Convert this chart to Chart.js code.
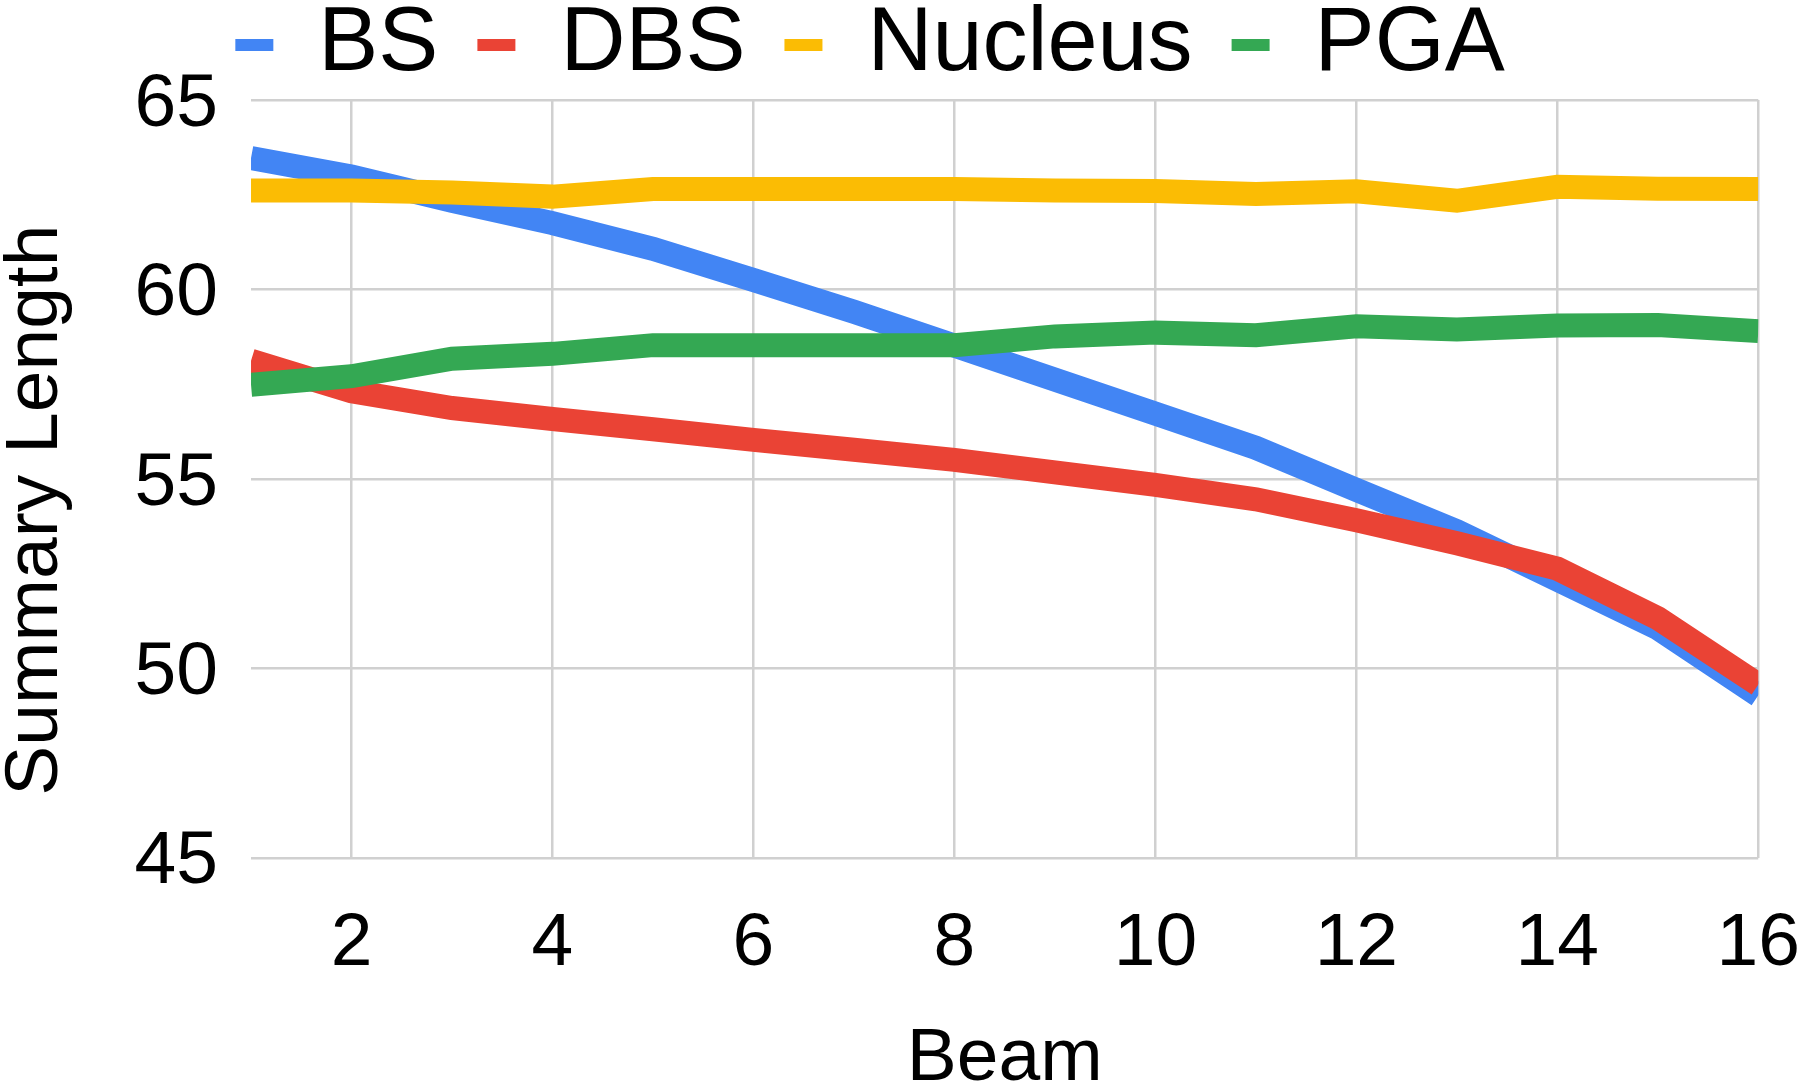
<!DOCTYPE html>
<html>
<head>
<meta charset="utf-8">
<title>Summary Length by Beam</title>
<script src="https://cdn.jsdelivr.net/npm/chart.js@4.4.1/dist/chart.umd.min.js"></script>
<style>
  html, body { margin: 0; padding: 0; background: #fff; }
  #chart { display: block; }
</style>
</head>
<body>
<canvas id="chart" width="1800" height="1081"></canvas>
<script>
const beams = [1, 2, 3, 4, 5, 6, 7, 8, 9, 10, 11, 12, 13, 14, 15, 16];
const bs = [63.47, 62.98, 62.34, 61.75, 61.07, 60.25, 59.41, 58.52, 57.62, 56.72, 55.82, 54.71, 53.62, 52.34, 51.06, 49.29];
const dbs = [58.12, 57.31, 56.87, 56.58, 56.31, 56.03, 55.77, 55.50, 55.17, 54.84, 54.46, 53.91, 53.30, 52.63, 51.32, 49.57];
const nucleus = [62.61, 62.61, 62.56, 62.45, 62.65, 62.65, 62.65, 62.65, 62.61, 62.60, 62.52, 62.59, 62.34, 62.71, 62.66, 62.65];
const pga = [57.48, 57.71, 58.17, 58.30, 58.53, 58.53, 58.53, 58.53, 58.76, 58.86, 58.79, 59.03, 58.94, 59.05, 59.06, 58.90];
const xTicks = [2, 4, 6, 8, 10, 12, 14, 16];

const BLUE = '#4285f4';
const RED = '#ea4335';
const YELLOW = '#fbbc04';
const GREEN = '#34a853';
const GRID = '#d0d0d0';

Chart.defaults.font.family = '"Liberation Sans", Arial, sans-serif';
Chart.defaults.color = '#000';

const toPoints = ys => ys.map((y, i) => ({ x: beams[i], y: y }));

function line(label, values, color) {
  return {
    label: label,
    data: toPoints(values),
    borderColor: color,
    backgroundColor: color,
    borderWidth: 24,
    pointRadius: 0,
    fill: false,
    tension: 0
  };
}

// first dataset is drawn on top, legend is reversed back to BS..PGA
const datasets = [
  line('PGA', pga, GREEN),
  line('Nucleus', nucleus, YELLOW),
  line('DBS', dbs, RED),
  line('BS', bs, BLUE)
];

// nudge the legend a bit left, like the original
const legendShift = {
  id: 'legendShift',
  afterLayout(chart) {
    chart.legend.left -= 30;
    chart.legend.right -= 30;
  }
};

new Chart(document.getElementById('chart').getContext('2d'), {
  type: 'line',
  data: { datasets: datasets },
  options: {
    responsive: false,
    animation: false,
    devicePixelRatio: 1,
    layout: { padding: { top: -39, left: 0, right: 0, bottom: 0 } },
    plugins: {
      tooltip: { enabled: false },
      legend: {
        reverse: true,
        labels: {
          boxWidth: 38,
          boxHeight: 12,
          padding: 39,
          color: '#000',
          font: { size: 90 },
          generateLabels: chart => Chart.defaults.plugins.legend.labels.generateLabels(chart)
            .map(item => ({ ...item, lineWidth: 0 }))
        }
      }
    },
    scales: {
      x: {
        type: 'linear',
        min: 1,
        max: 16,
        afterBuildTicks: axis => { axis.ticks = xTicks.map(v => ({ value: v })); },
        grid: { color: GRID, lineWidth: 2.5, drawTicks: false },
        border: { display: false },
        // tall line height pushes the labels down without adding side padding
        ticks: { font: { size: 75, lineHeight: 2.31 }, padding: 0, maxRotation: 0, autoSkip: false },
        title: {
          display: true,
          text: 'Beam',
          font: { size: 75 },
          padding: { top: -16.5, bottom: -23.5 }
        }
      },
      y: {
        min: 45,
        max: 65,
        grid: { color: GRID, lineWidth: 2.5, drawTicks: false },
        border: { display: false },
        ticks: { stepSize: 5, font: { size: 75 }, padding: 33, labelOffset: 5 },
        title: {
          display: true,
          text: 'Summary Length   ',
          font: { size: 75 },
          padding: { top: -9, bottom: 20.6 }
        }
      }
    }
  },
  plugins: [legendShift]
});
</script>
</body>
</html>
